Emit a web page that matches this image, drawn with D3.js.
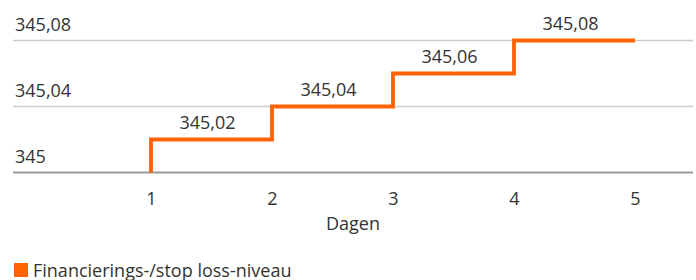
<!DOCTYPE html>
<html>
<head>
<meta charset="utf-8">
<script src="https://cdnjs.cloudflare.com/ajax/libs/d3/7.8.5/d3.min.js"></script>
<style>
  body { margin: 0; background: #fff; }
  text { font-family: "Open Sans", sans-serif; fill: #333; }
</style>
</head>
<body>
<div id="chart"></div>
<script>
// data
var days = [1, 2, 3, 4, 5];
var levels = [345, 345.02, 345.04, 345.06, 345.08];
var yTicks = [345, 345.04, 345.08];
var xLabel = 'Dagen';
var seriesName = 'Financierings-/stop loss-niveau';

var width = 696, height = 280;
var orange = '#ff6200';
var fs = 18;

var svg = d3.select('#chart')
  .append('svg')
  .attr('width', width)
  .attr('height', height);

var x = d3.scaleLinear().domain([1, 5]).range([151, 635]);
var y = d3.scaleLinear().domain([345, 345.08]).range([172.5, 40.5]);

var nl = d3.formatLocale({ decimal: ',', thousands: '.', grouping: [3], currency: ['€', ''] });
var fmt = function (v) { return nl.format('.2f')(v).replace(/,00$/, ''); };

var left = 13, right = 693;

// gridlines + y labels
var grid = svg.append('g');
yTicks.forEach(function (t) {
  grid.append('line')
    .attr('x1', left).attr('x2', right)
    .attr('y1', y(t)).attr('y2', y(t))
    .attr('stroke', t === 345 ? '#999' : '#ccc')
    .attr('stroke-width', t === 345 ? 2 : 1.3);
  grid.append('text')
    .attr('x', 15)
    .attr('y', y(t) - 9.8)
    .attr('font-size', fs)
    .text(fmt(t));
});

// x axis
var xAxis = d3.axisBottom(x).tickValues(days).tickSize(0).tickPadding(0).tickFormat(d3.format('d'));
var gx = svg.append('g').attr('transform', 'translate(0,' + 205 + ')').call(xAxis);
gx.select('.domain').remove();
gx.selectAll('text')
  .attr('dy', null)
  .attr('font-size', fs)
  .style('font-family', '"Open Sans", sans-serif')
  .attr('fill', '#333');

svg.append('text')
  .attr('x', 353)
  .attr('y', 229.5)
  .attr('text-anchor', 'middle')
  .attr('font-size', fs)
  .text(xLabel);

// step line
var pts = days.map(function (d, i) { return [d, levels[i]]; });
var line = d3.line()
  .x(function (d) { return x(d[0]); })
  .y(function (d) { return y(d[1]); })
  .curve(d3.curveStepBefore);

svg.append('path')
  .datum(pts)
  .attr('d', line)
  .attr('fill', 'none')
  .attr('stroke', orange)
  .attr('stroke-width', 3.8);

// step labels
svg.selectAll('.step-label')
  .data(pts.slice(1))
  .enter()
  .append('text')
  .attr('class', 'step-label')
  .attr('x', function (d) { return (x(d[0] - 1) + x(d[0])) / 2 - 4; })
  .attr('y', function (d) { return y(d[1]) - 10.5; })
  .attr('text-anchor', 'middle')
  .attr('font-size', fs)
  .text(function (d) { return fmt(d[1]); });

// legend
var lg = svg.append('g');
lg.append('rect')
  .attr('x', 14).attr('y', 263)
  .attr('width', 14).attr('height', 14)
  .attr('fill', orange);
lg.append('text')
  .attr('x', 33).attr('y', 276.5)
  .attr('font-size', fs)
  .text(seriesName);
</script>
</body>
</html>
